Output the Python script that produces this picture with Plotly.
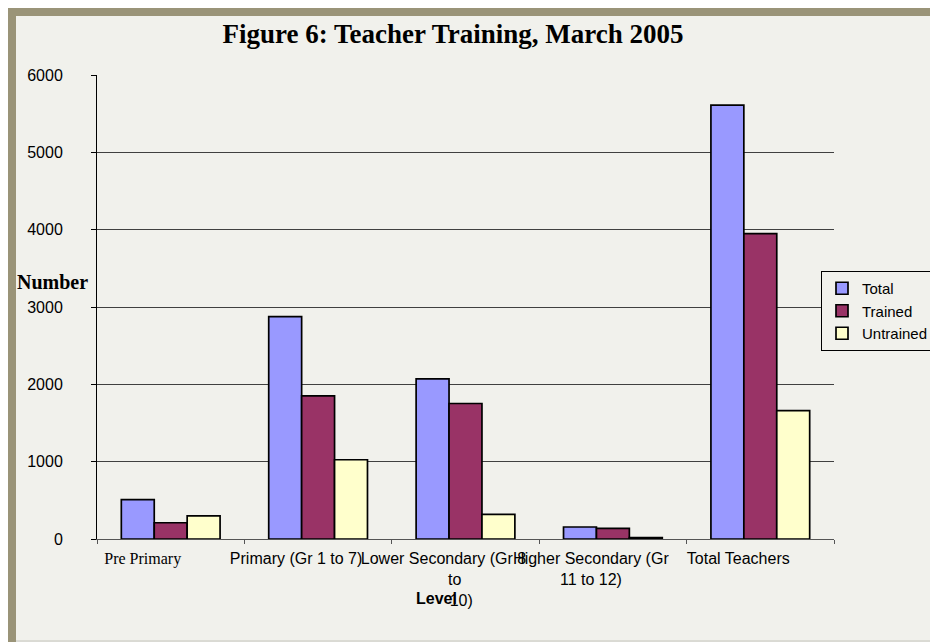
import plotly.graph_objects as go

# ---- data ----
categories = ["Pre Primary", "Primary (Gr 1 to 7)", "Lower Secondary (Gr 8 to 10)",
              "Higher Secondary (Gr 11 to 12)", "Total Teachers"]
tick_labels = ["<span style='font-family:Liberation Serif, Times New Roman, serif'>Pre Primary&nbsp;&nbsp;&nbsp;</span>",
               "Primary (Gr 1 to 7)",
               "Lower Secondary (Gr 8<br>&nbsp;&nbsp;&nbsp;&nbsp;&nbsp;to<br>&nbsp;&nbsp;&nbsp;&nbsp;&nbsp;&nbsp;&nbsp;&nbsp;10)",
               "Higher Secondary (Gr<br>11 to 12)",
               "Total Teachers"]
total = [510, 2875, 2070, 155, 5610]
trained = [210, 1850, 1752, 138, 3950]
untrained = [300, 1025, 318, 17, 1660]
y_ticks = [0, 1000, 2000, 3000, 4000, 5000, 6000]

# ---- layout geometry (figure pixels; the page adds an 8px body margin) ----
W, H = 930, 634
L, R, T, B = 89, 104, 67, 103

def px2x(px):
    return (px - L) / (W - L - R)

def py2y(py):
    return (H - B - py) / (H - T - B)

BG = "#F1F1EC"
BROWN = "#9A9478"
ARIAL = "Liberation Sans, Arial, sans-serif"
SERIF = "Liberation Serif, Times New Roman, serif"

fig = go.Figure()
for name, vals, color in [("Total", total, "#9999FF"),
                          ("Trained", trained, "#993366"),
                          ("Untrained", untrained, "#FFFFCC")]:
    fig.add_trace(go.Bar(x=categories, y=vals, name=name,
                         marker=dict(color=color, line=dict(color="black", width=1.7))))

shapes = [
    # brown frame bands (top and left)
    dict(type="rect", xref="paper", yref="paper", x0=px2x(0), x1=px2x(929), y0=py2y(0), y1=py2y(8),
         fillcolor=BROWN, line=dict(width=0), layer="below"),
    dict(type="rect", xref="paper", yref="paper", x0=px2x(0), x1=px2x(8), y0=py2y(0), y1=py2y(H),
         fillcolor=BROWN, line=dict(width=0), layer="below"),
    # thin right / bottom edges
    dict(type="line", xref="paper", yref="paper", x0=px2x(929), x1=px2x(929), y0=py2y(0), y1=py2y(H),
         line=dict(color="#A0A098", width=1), layer="below"),
    dict(type="line", xref="paper", yref="paper", x0=px2x(8), x1=px2x(W), y0=py2y(633), y1=py2y(633),
         line=dict(color="#C4C4BC", width=1), layer="below"),
]

annotations = [
    dict(text="<b>Number</b>", xref="paper", yref="paper", x=px2x(44), y=py2y(274),
         xanchor="center", yanchor="middle", showarrow=False,
         font=dict(family=SERIF, size=20, color="black")),
    dict(text="<b>Level</b>", xref="paper", yref="paper", x=px2x(428), y=py2y(590),
         xanchor="center", yanchor="middle", showarrow=False,
         font=dict(family=ARIAL, size=16, color="black")),
]

fig.update_layout(
    width=W, height=H,
    margin=dict(l=L, r=R, t=T, b=B, autoexpand=False),
    paper_bgcolor=BG, plot_bgcolor=BG,
    barmode="group", bargap=0.33, bargroupgap=0,
    title=dict(text="<b>Figure 6: Teacher Training, March 2005</b>",
               x=445 / W, xref="container", xanchor="center",
               y=1 - 26 / H, yref="container", yanchor="middle",
               font=dict(family=SERIF, size=27, color="black")),
    font=dict(family=ARIAL, size=16, color="black"),
    legend=dict(x=px2x(813), y=py2y(263), xanchor="left", yanchor="top",
                bgcolor=BG, bordercolor="black", borderwidth=1,
                font=dict(family=ARIAL, size=15, color="black"),
                tracegroupgap=0, itemwidth=30),
    shapes=shapes,
    annotations=annotations,
    showlegend=True,
)

fig.update_yaxes(range=[0, 6000], tickvals=y_ticks, ticktext=[str(v) for v in y_ticks],
                 showgrid=True, gridcolor="#404040", gridwidth=1,
                 showline=True, linecolor="black", linewidth=1,
                 ticks="outside", ticklen=5, tickcolor="black",
                 ticklabelstandoff=25, zeroline=False,
                 tickfont=dict(family=ARIAL, size=16, color="black"))
fig.update_xaxes(type="category", tickvals=categories, ticktext=tick_labels,
                 tickson="boundaries", ticks="outside", ticklen=4, tickcolor="#555555",
                 showline=True, linecolor="#555555", linewidth=1,
                 ticklabelshift=-22, ticklabelstandoff=5, tickangle=0, showgrid=False,
                 tickfont=dict(family=ARIAL, size=16, color="black"))

fig.write_html("out.html")
